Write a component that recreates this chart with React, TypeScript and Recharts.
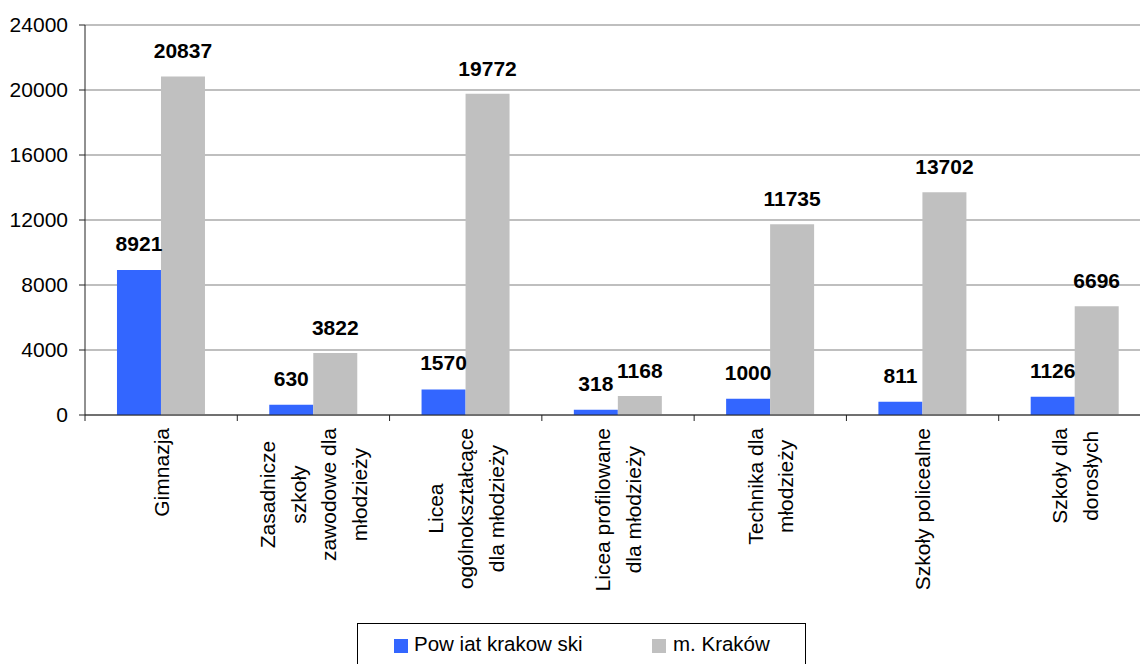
import React from 'react';
import { BarChart, Bar, XAxis, YAxis, CartesianGrid, LabelList } from 'recharts';

const categories = [
  ['Gimnazja'],
  ['Zasadnicze', 'szkoły', 'zawodowe dla', 'młodzieży'],
  ['Licea', 'ogólnokształcące', 'dla młodzieży'],
  ['Licea profilowane', 'dla młodzieży'],
  ['Technika dla', 'młodzieży'],
  ['Szkoły policealne'],
  ['Szkoły dla', 'dorosłych'],
];
const powiat = [8921, 630, 1570, 318, 1000, 811, 1126];
const krakow = [20837, 3822, 19772, 1168, 11735, 13702, 6696];
const yTicks = [0, 4000, 8000, 12000, 16000, 20000, 24000];

const W = 1160;
const H = 664;
const MARGIN = { top: 25, right: 9, left: 0, bottom: 0 };
const Y_W = 85;
const BAND = (W - MARGIN.right - Y_W) / categories.length;
const FONT = '"Liberation Sans", Arial, sans-serif';

const data = categories.map((lines, i) => ({
  name: lines.join(' '),
  lines,
  powiat: powiat[i],
  krakow: krakow[i],
}));

let ctx: CanvasRenderingContext2D | null = null;
const measure = (s: string) => {
  if (!ctx) ctx = document.createElement('canvas').getContext('2d');
  if (!ctx) return s.length * 11;
  ctx.font = `21px ${FONT}`;
  return ctx.measureText(s).width;
};

// rotated, wrapped label + tick mark on the left band edge
const CategoryTick = (props: any) => {
  const { x, y, payload } = props;
  const lines: string[] = data[payload.index]?.lines ?? [payload.value];
  const maxW = Math.max(...lines.map(measure));
  const cy = y + 7 + maxW / 2;
  const step = 30.5;
  const x0 = x - ((lines.length - 1) * step) / 2;
  return (
    <g>
      <line x1={x - BAND / 2} x2={x - BAND / 2} y1={y - 6} y2={y} stroke="#222" />
      {lines.map((l, i) => (
        <text
          key={i}
          x={x0 + i * step}
          y={cy}
          transform={`rotate(-90, ${x0 + i * step}, ${cy})`}
          textAnchor="middle"
          dominantBaseline="central"
          fontSize={21}
          fontFamily={FONT}
          fill="#000"
        >
          {l}
        </text>
      ))}
    </g>
  );
};

const labelStyle = { fontSize: 21, fontWeight: 'bold' as const, fill: '#000', fontFamily: FONT };

export default function App() {
  return (
    <div
      style={{
        position: 'absolute',
        left: 0,
        top: 0,
        width: 1140,
        height: 664,
        overflow: 'hidden',
        background: '#fff',
        fontFamily: FONT,
      }}
    >
      <BarChart
        width={W}
        height={H}
        data={data}
        margin={MARGIN}
        barCategoryGap="21%"
        barGap={0}
      >
        <CartesianGrid vertical={false} stroke="#808080" strokeWidth={1.2} />
        <XAxis
          dataKey="name"
          interval={0}
          height={H - 415}
          tickLine={false}
          tickSize={6}
          tickMargin={0}
          stroke="#222"
          tick={<CategoryTick />}
        />
        <YAxis
          width={Y_W}
          domain={[0, 24000]}
          ticks={yTicks}
          interval={0}
          tickSize={6}
          tickMargin={11}
          stroke="#222"
          tick={{ fill: '#000', fontSize: 21, fontFamily: FONT }}
        />
        <Bar dataKey="powiat" fill="#3366FF" isAnimationActive={false}>
          <LabelList dataKey="powiat" position="top" offset={19} style={labelStyle} />
        </Bar>
        <Bar dataKey="krakow" fill="#C0C0C0" isAnimationActive={false}>
          <LabelList dataKey="krakow" position="top" offset={18} style={labelStyle} />
        </Bar>
      </BarChart>
      <div
        style={{
          position: 'absolute',
          left: 357,
          top: 623,
          width: 447,
          height: 60,
          border: '1px solid #000',
          background: '#fff',
          fontSize: 20.5,
          color: '#000',
        }}
      >
        <span style={{ position: 'absolute', left: 36, top: 15, width: 14, height: 14, background: '#3366FF' }} />
        <span style={{ position: 'absolute', left: 56, top: 8, lineHeight: '24px', whiteSpace: 'pre' }}>
          Pow iat krakow ski
        </span>
        <span style={{ position: 'absolute', left: 294, top: 15, width: 14, height: 14, background: '#C0C0C0' }} />
        <span style={{ position: 'absolute', left: 315, top: 8, lineHeight: '24px' }}>m. Kraków</span>
      </div>
    </div>
  );
}
